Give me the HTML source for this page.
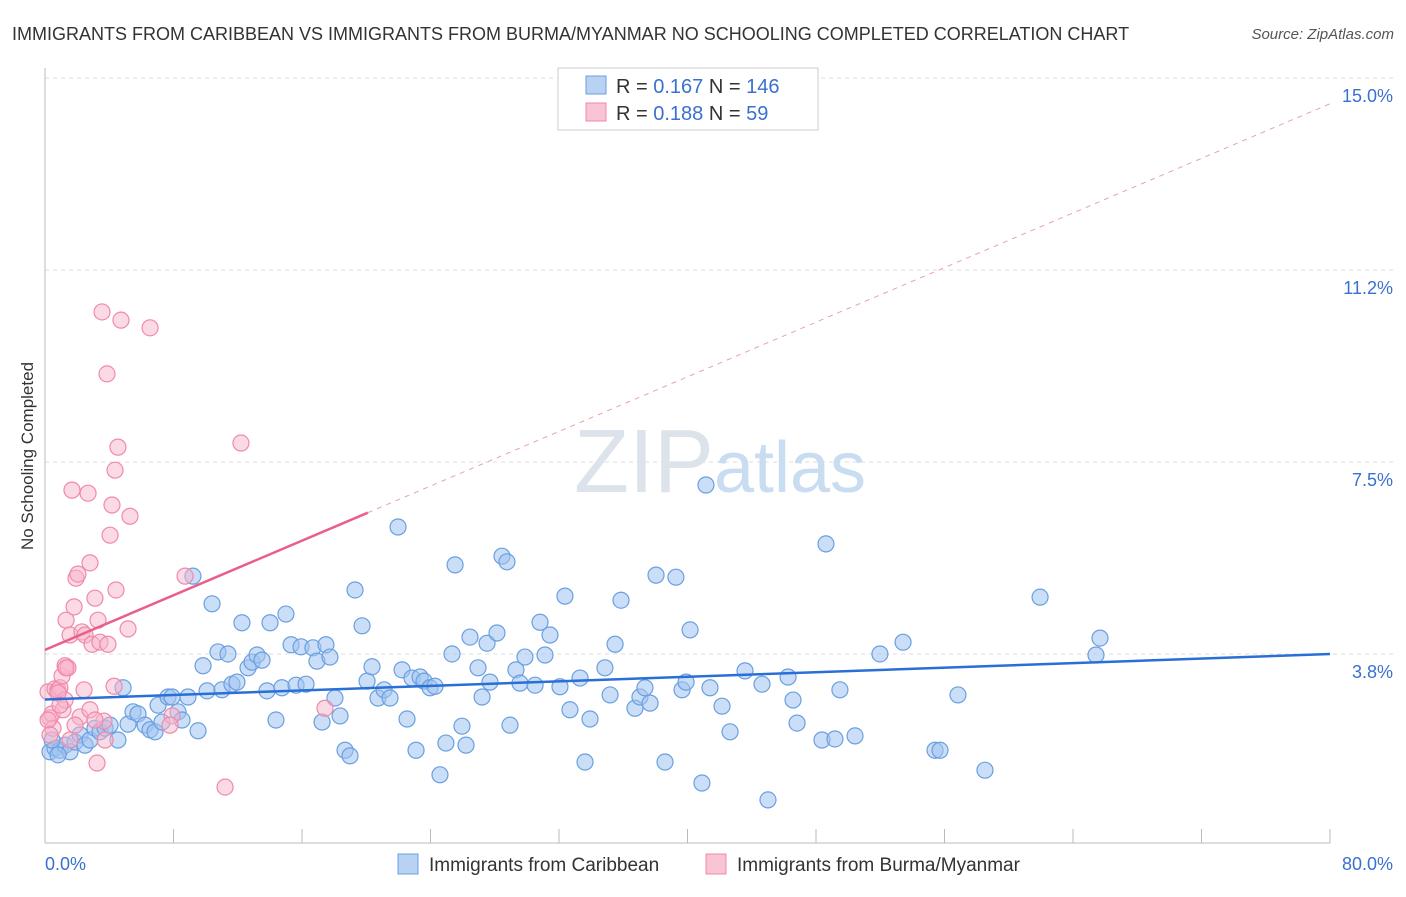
<!DOCTYPE html>
<html><head><meta charset="utf-8"><style>
body{margin:0;background:#fff;font-family:"Liberation Sans",sans-serif}
svg text{font-family:"Liberation Sans",sans-serif}
</style></head><body>
<svg id="c" width="1406" height="892" xmlns="http://www.w3.org/2000/svg">
<text x="12" y="40" font-size="18" fill="#333">IMMIGRANTS FROM CARIBBEAN VS IMMIGRANTS FROM BURMA/MYANMAR NO SCHOOLING COMPLETED CORRELATION CHART</text>
<text x="1394" y="39" font-size="15" fill="#555" font-style="italic" text-anchor="end">Source: ZipAtlas.com</text>
<text x="33" y="456" font-size="17" fill="#333" text-anchor="middle" transform="rotate(-90 33 456)">No Schooling Completed</text>
<g id="grid"></g>
<text x="720" y="492" font-size="90" fill="#dde3ea" text-anchor="middle" font-family="Liberation Serif">ZIP<tspan fill="#c8dcf2" font-family="Liberation Sans" font-size="72">atlas</tspan></text>
<g id="pts"></g>
<g id="lines"></g>
<g>
<rect x="558" y="68" width="260" height="62" fill="#fff" stroke="#ccc"/>
<rect x="586" y="76" width="20" height="18" fill="#b8d2f4" stroke="#6a9fe0"/>
<rect x="586" y="103" width="20" height="18" fill="#f9c4d4" stroke="#f08aa8"/>
<text x="616" y="93" font-size="20" fill="#333">R = <tspan fill="#3a70d0">0.167</tspan>   N = <tspan fill="#3a70d0">146</tspan></text>
<text x="616" y="120" font-size="20" fill="#333">R = <tspan fill="#3a70d0">0.188</tspan>   N =  <tspan fill="#3a70d0"> 59</tspan></text>
</g>
<g>
<rect x="398" y="854" width="20" height="20" fill="#b8d2f4" stroke="#6a9fe0"/>
<text x="429" y="871" font-size="19" fill="#333">Immigrants from Caribbean</text>
<rect x="706" y="854" width="20" height="20" fill="#f9c4d4" stroke="#f08aa8"/>
<text x="737" y="871" font-size="19" fill="#333">Immigrants from Burma/Myanmar</text>
</g>
<text x="45" y="870" font-size="18" fill="#3a70d0">0.0%</text>
<text x="1393" y="870" font-size="18" fill="#3a70d0" text-anchor="end">80.0%</text>
</svg>
<script>
const yTicks=[3.8,7.5,11.2,15.0];
const yTickVals=[3.75,7.5,11.25,15.0];
const xTicks=[0,8,16,24,32,40,48,56,64,72,80];
const bluePx=[[50,752],[55,748],[60,750],[65,745],[70,752],[75,742],[80,735],[85,745],[90,740],[95,728],[100,732],[105,728],[110,725],[118,740],[123,688],[128,724],[133,712],[138,714],[145,725],[150,730],[155,732],[158,705],[162,722],[168,697],[172,697],[178,712],[182,720],[188,697],[193,576],[198,731],[203,666],[207,691],[212,604],[218,652],[222,690],[228,654],[232,684],[237,682],[242,623],[248,668],[252,662],[257,655],[262,660],[267,691],[270,623],[276,720],[282,688],[286,614],[291,645],[296,685],[301,647],[306,684],[313,648],[317,661],[322,722],[326,645],[330,657],[335,698],[340,716],[345,750],[350,756],[355,590],[362,626],[367,681],[372,667],[378,698],[384,690],[390,698],[398,527],[402,670],[407,719],[412,678],[416,750],[420,677],[424,681],[430,688],[435,686],[440,775],[446,743],[452,654],[455,565],[462,726],[466,745],[470,637],[478,668],[482,697],[487,643],[490,682],[497,633],[502,556],[507,562],[510,725],[516,670],[520,683],[525,657],[535,685],[540,622],[545,655],[550,635],[560,687],[565,596],[570,710],[580,678],[585,762],[590,719],[605,668],[610,695],[615,644],[621,600],[635,708],[640,697],[645,688],[650,703],[656,575],[665,762],[676,577],[682,690],[686,682],[690,630],[702,783],[706,485],[710,688],[722,706],[730,732],[745,671],[762,684],[768,800],[788,677],[793,700],[797,723],[822,740],[826,544],[835,739],[840,690],[855,736],[880,654],[903,642],[935,750],[940,750],[958,695],[985,770],[1040,597],[1096,655],[1100,638],[52,740],[58,755]];
const pinkPx=[[48,692],[50,718],[52,714],[53,728],[55,689],[58,690],[60,688],[62,676],[63,710],[65,666],[66,620],[68,668],[70,635],[72,490],[74,607],[76,578],[78,574],[80,717],[82,632],[84,690],[85,635],[88,493],[90,563],[92,644],[95,598],[97,763],[98,620],[100,642],[102,312],[104,721],[105,740],[107,374],[108,644],[112,505],[114,686],[115,470],[116,590],[118,447],[121,320],[128,629],[130,516],[150,328],[172,716],[185,576],[225,787],[241,443],[325,708],[65,700],[58,693],[75,725],[110,535],[60,705],[48,720],[90,710],[50,735],[70,740],[95,720],[170,725],[66,668]];
// convert read-off estimates to data units (%)
const blueX=bluePx.map(p=>+((p[0]-45)*80/1285).toFixed(2));
const blueY=bluePx.map(p=>+((847-p[1])/51.2).toFixed(2));
const pinkX=pinkPx.map(p=>+((p[0]-45)*80/1285).toFixed(2));
const pinkY=pinkPx.map(p=>+((847-p[1])/51.2).toFixed(2));
const blueTrend=[2.88,3.77];
const pinkTrend=[3.85,6.53];
const pinkSolidEnd=20.1;

const X=v=>45+v*1285/80, Y=v=>847-v*51.2;
const NS='http://www.w3.org/2000/svg';
function mk(t,a,par){const e=document.createElementNS(NS,t);for(const k in a)e.setAttribute(k,a[k]);par.appendChild(e);return e;}
const grid=document.getElementById('grid');
yTickVals.forEach((v,i)=>{
 const l=mk('line',{x1:45,x2:1393,y1:Y(v)-1,y2:Y(v)-1,stroke:'#dcdcdc','stroke-dasharray':'4,4'},grid);
 
 
 const t=mk('text',{x:1393,y:Y(v)+23,'font-size':18,fill:'#3a70d0','text-anchor':'end'},grid);
 t.textContent=yTicks[i].toFixed(1)+'%';
 
 
});
const ax=mk('line',{x1:45,x2:1330,y1:843,y2:843,stroke:'#bbb'},grid);


const ay=mk('line',{x1:45,x2:45,y1:68,y2:843,stroke:'#bbb'},grid);


xTicks.forEach(v=>{const t=mk('line',{x1:X(v),x2:X(v),y1:829,y2:843,stroke:'#bbb'},grid);
 
 });
const pts=document.getElementById('pts');
blueX.forEach((x,i)=>{const c=mk('circle',{cx:X(x),cy:Y(blueY[i]),r:8,fill:'rgba(160,195,240,0.55)',stroke:'#6a9fe0','stroke-width':1.2},pts);
 
 });
pinkX.forEach((x,i)=>{const c=mk('circle',{cx:X(x),cy:Y(pinkY[i]),r:8,fill:'rgba(248,180,204,0.5)',stroke:'#f08aa8','stroke-width':1.2},pts);
 
 });
const lines=document.getElementById('lines');
const bl=mk('line',{x1:X(0),y1:Y(blueTrend[0]),x2:X(80),y2:Y(blueTrend[1]),stroke:'#2a6fd6','stroke-width':2.5},lines);


const slope=(pinkTrend[1]-pinkTrend[0])/pinkSolidEnd;
const pl=mk('line',{x1:X(0),y1:Y(pinkTrend[0]),x2:X(pinkSolidEnd),y2:Y(pinkTrend[1]),stroke:'#e8608a','stroke-width':2.5},lines);


const pd=mk('line',{x1:X(pinkSolidEnd),y1:Y(pinkTrend[1]),x2:X(80),y2:Y(pinkTrend[0]+slope*80),stroke:'#e8a0b6','stroke-width':1,'stroke-dasharray':'5,5'},lines);


</script>
</body></html>
